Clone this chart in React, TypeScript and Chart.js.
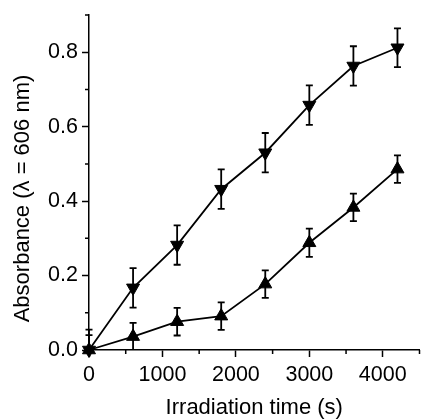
import React, { useEffect, useRef } from "react";
import { Chart, registerables } from "chart.js";

Chart.register(...registerables);

const times = [0, 600, 1200, 1800, 2400, 3000, 3600, 4200];
const downValues = [0, 0.167, 0.282, 0.432, 0.53, 0.658, 0.763, 0.812];
const downErrors = [0.055, 0.053, 0.053, 0.053, 0.053, 0.053, 0.053, 0.052];
const upValues = [0, 0.036, 0.076, 0.091, 0.177, 0.288, 0.383, 0.486];
const upErrors = [0.04, 0.037, 0.037, 0.037, 0.037, 0.038, 0.037, 0.037];
const xMajorTicks = [0, 1000, 2000, 3000, 4000];
const yMajorTicks = [0, 0.2, 0.4, 0.6, 0.8];
const xMinorTicks = [500, 1500, 2500, 3500, 4500];
const yMinorTicks = [0.1, 0.3, 0.5, 0.7, 0.9];
const xTitle = "Irradiation time (s)";
const yTitle = "Absorbance (λ = 606 nm)";

const FONT = "'Liberation Sans', Arial, sans-serif";

const errorBarPlugin = {
  id: "errorBars",
  afterDatasetsDraw(chart: any) {
    const ctx = chart.ctx;
    const xs = chart.scales.x;
    const ys = chart.scales.y;
    const area = chart.chartArea;
    ctx.save();
    ctx.strokeStyle = "#000";
    ctx.lineWidth = 1.8;
    const groups = [
      { v: downValues, e: downErrors },
      { v: upValues, e: upErrors },
    ];
    groups.forEach((g) => {
      times.forEach((t, i) => {
        const px = xs.getPixelForValue(t);
        const top = ys.getPixelForValue(g.v[i] + g.e[i]);
        const bot = Math.min(ys.getPixelForValue(g.v[i] - g.e[i]), area.bottom);
        ctx.beginPath();
        ctx.moveTo(px, top);
        ctx.lineTo(px, bot);
        ctx.moveTo(px - 3.5, top);
        ctx.lineTo(px + 3.5, top);
        if (g.v[i] - g.e[i] >= 0) {
          ctx.moveTo(px - 3.5, bot);
          ctx.lineTo(px + 3.5, bot);
        }
        ctx.stroke();
      });
    });
    // minor ticks
    ctx.lineWidth = 1.5;
    ctx.beginPath();
    xMinorTicks.forEach((t) => {
      const px = xs.getPixelForValue(t);
      ctx.moveTo(px, area.bottom);
      ctx.lineTo(px, area.bottom + 4);
    });
    yMinorTicks.forEach((v) => {
      const py = ys.getPixelForValue(v);
      ctx.moveTo(area.left, py);
      ctx.lineTo(area.left - 4, py);
    });
    ctx.stroke();
    // y axis title
    ctx.translate(23, 198.5);
    ctx.rotate(-Math.PI / 2);
    ctx.fillStyle = "#000";
    ctx.font = `22px ${FONT}`;
    ctx.textAlign = "center";
    ctx.textBaseline = "middle";
    ctx.fillText(yTitle, 0, 0);
    ctx.restore();
  },
};

export default function App() {
  const ref = useRef<HTMLCanvasElement>(null);
  useEffect(() => {
    if (!ref.current) return;
    const chart = new Chart(ref.current, {
      type: "line",
      data: {
        datasets: [
          {
            data: times.map((t, i) => ({ x: t, y: downValues[i] })),
            borderColor: "#000",
            backgroundColor: "#000",
            borderWidth: 1.8,
            pointStyle: "triangle",
            pointRotation: 180,
            pointRadius: 7.5,
            pointBorderWidth: 1,
            clip: false as any,
          },
          {
            data: times.map((t, i) => ({ x: t, y: upValues[i] })),
            borderColor: "#000",
            backgroundColor: "#000",
            borderWidth: 1.8,
            pointStyle: "triangle",
            pointRadius: 7.5,
            pointBorderWidth: 1,
            clip: false as any,
          },
        ],
      },
      options: {
        animation: false,
        responsive: false,
        layout: { padding: { left: 0, top: 15, right: 1.2, bottom: 0 } },
        plugins: { legend: { display: false }, tooltip: { enabled: false } },
        scales: {
          x: {
            type: "linear",
            min: 0,
            max: 4500,
            border: { color: "#000", width: 1.5 },
            grid: { drawOnChartArea: false, tickLength: 7, color: "#000", tickWidth: 1.5 },
            ticks: {
              color: "#000",
              padding: 5,
              maxRotation: 0,
              autoSkip: false,
              font: { family: FONT, size: 21.5 },
              callback: (v: any) => String(v),
            },
            afterBuildTicks: (s: any) => {
              s.ticks = xMajorTicks.map((v) => ({ value: v }));
            },
            title: {
              display: true,
              text: xTitle,
              color: "#000",
              font: { family: FONT, size: 22, lineHeight: 1 },
              padding: { top: 0, bottom: 0 },
            },
            afterFit: (s: any) => {
              s.height = 69;
              s.paddingLeft = 0;
              s.paddingRight = 0;
            },
          },
          y: {
            type: "linear",
            min: 0,
            max: 0.9,
            border: { color: "#000", width: 1.5 },
            grid: { drawOnChartArea: false, tickLength: 7, color: "#000", tickWidth: 1.5 },
            ticks: {
              color: "#000",
              padding: 4,
              autoSkip: false,
              font: { family: FONT, size: 21.5 },
              callback: (v: any) => Number(v).toFixed(1),
            },
            afterBuildTicks: (s: any) => {
              s.ticks = yMajorTicks.map((v) => ({ value: v }));
            },
            afterFit: (s: any) => {
              s.width = 89;
              s.paddingTop = 0;
              s.paddingBottom = 0;
            },
          },
        },
      },
      plugins: [errorBarPlugin],
    });
    return () => chart.destroy();
  }, []);
  return (
    <div style={{ position: "fixed", left: 0, top: 0, width: 425, height: 419, overflow: "hidden", background: "#fff" }}>
      <canvas ref={ref} width={428} height={419} style={{ width: 428, height: 419, display: "block" }} />
    </div>
  );
}
